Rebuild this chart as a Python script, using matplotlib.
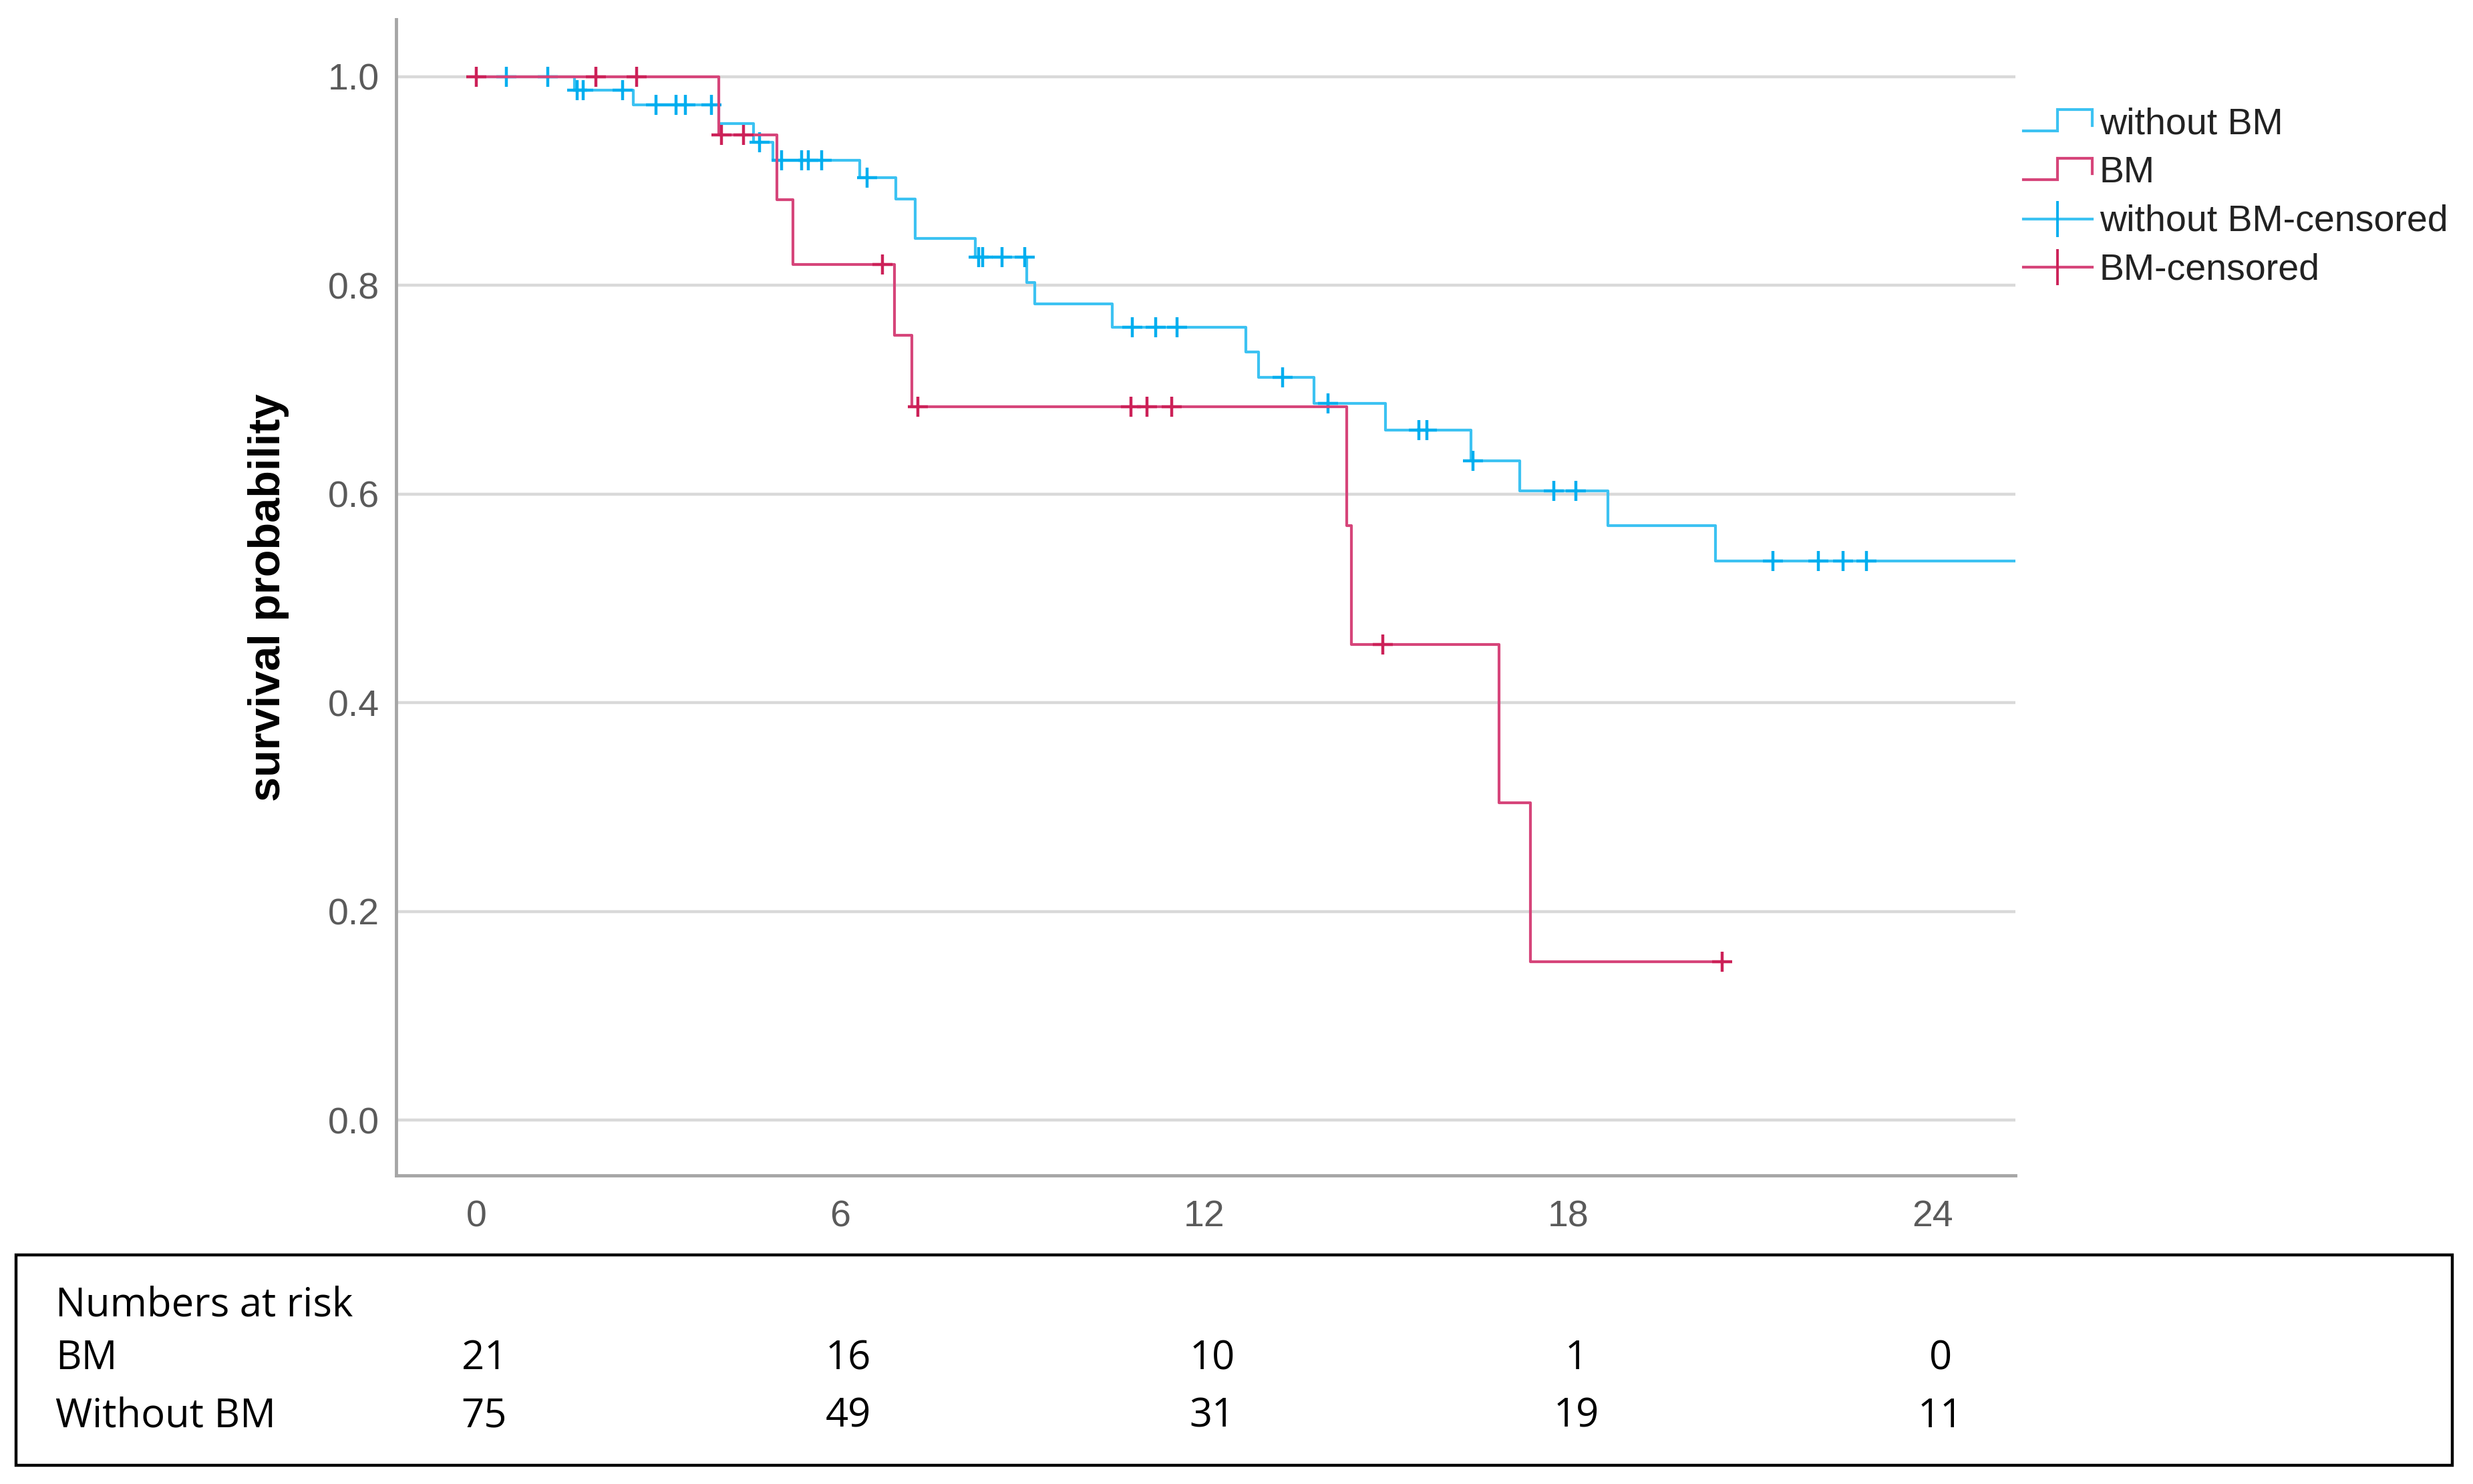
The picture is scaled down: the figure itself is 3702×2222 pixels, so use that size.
import numpy as np
import matplotlib
matplotlib.use('Agg')
import matplotlib.pyplot as plt
import matplotlib.transforms as mtransforms
from matplotlib.lines import Line2D
from matplotlib.patches import Rectangle
from matplotlib.legend_handler import HandlerBase

# Kaplan-Meier steps (months, survival)
blue_event_times = [1.62, 2.59, 4.00, 4.57, 4.89, 6.32, 6.91, 7.23, 8.23, 9.07, 9.21,
                    10.48, 12.69, 12.89, 13.81, 14.99, 16.40, 17.20, 18.65, 20.42]
blue_surv = [0.987, 0.973, 0.955, 0.937, 0.920, 0.903, 0.883, 0.845, 0.827, 0.803, 0.782,
             0.760, 0.736, 0.712, 0.687, 0.661, 0.632, 0.603, 0.570, 0.536]
blue_censored = [0.50, 1.18, 1.66, 1.76, 2.41, 2.96, 3.29, 3.45, 3.88, 4.67, 5.03, 5.36,
                 5.47, 5.69, 6.44, 8.28, 8.35, 8.67, 9.04, 10.81, 11.20, 11.55, 13.29,
                 14.04, 15.54, 15.67, 16.43, 17.76, 18.12, 21.37, 22.12, 22.53, 22.91]
blue_last = 26.0

red_event_times = [4.00, 4.96, 5.22, 6.89, 7.18, 14.35, 14.42, 16.86, 17.37]
red_surv = [0.944, 0.882, 0.820, 0.752, 0.684, 0.570, 0.456, 0.304, 0.152]
red_censored = [0.0, 1.97, 2.64, 4.04, 4.41, 6.69, 7.28, 10.79, 11.06, 11.46, 14.94, 20.53]
red_last = 20.53

risk_times = [0, 6, 12, 18, 24]
risk_bm = [21, 16, 10, 1, 0]
risk_without = [75, 49, 31, 19, 11]

blue_line, blue_mark = '#3cc2f2', '#00aeef'
red_line, red_mark = '#d6457a', '#cc2158'


def level_at(times, surv, t):
    i = np.searchsorted(times, t, side='right')
    return np.r_[1.0, surv][i]


class StepHandler(HandlerBase):
    def create_artists(self, legend, orig_handle, xdescent, ydescent, width, height, fontsize, trans):
        xs = np.array([0, 0.5, 0.5, 1.0, 1.0]) * width - xdescent
        ys = np.array([0.05, 0.05, 1.0, 1.0, 0.3]) * height - ydescent
        ln = Line2D(xs, ys, color=orig_handle.get_color(), lw=orig_handle.get_linewidth(),
                    solid_joinstyle='miter')
        ln.set_transform(trans)
        return [ln]


fig = plt.figure(figsize=(37.02, 22.22), dpi=100)
ax = fig.add_axes([0.1602, 0.2079, 0.815 - 0.1602, 0.987 - 0.2079])

ax.set_xlim(-1.32, 25.37)
ax.set_ylim(-0.053, 1.055)
ax.yaxis.grid(True, color='#d9d9d9', lw=3.2)
ax.set_axisbelow(True)

for times, surv, last, cens, lc, mc in [
        (blue_event_times, blue_surv, blue_last, blue_censored, blue_line, blue_mark),
        (red_event_times, red_surv, red_last, red_censored, red_line, red_mark)]:
    xs = np.r_[0, times, last]
    ys = np.r_[1.0, surv, surv[-1]]
    ax.step(xs, ys, where='post', color=lc, lw=3.0)
    ax.plot(cens, [level_at(times, surv, t) for t in cens], '+', color=mc,
            ms=22, mew=3.2, ls='none')

for s in ['top', 'right']:
    ax.spines[s].set_visible(False)
for s in ['left', 'bottom']:
    ax.spines[s].set_color('#a6a6a6')
    ax.spines[s].set_linewidth(3.5)

ax.set_xticks(risk_times)
ax.set_yticks([0.0, 0.2, 0.4, 0.6, 0.8, 1.0])
ax.set_yticklabels(['0.0', '0.2', '0.4', '0.6', '0.8', '1.0'])
ax.tick_params(axis='both', length=0, labelsize=40, labelcolor='#5a5a5a')
ax.tick_params(axis='y', pad=18)
ax.tick_params(axis='x', pad=26)
for lab in ax.get_xticklabels() + ax.get_yticklabels():
    lab.set_family('Liberation Sans')

ax.set_ylabel('survival probability', fontsize=48, fontweight='bold',
              family='Liberation Sans', color='black')
ax.yaxis.set_label_coords(-0.066, 0.5)

# legend
h1 = Line2D([], [], color=blue_line, lw=3.0)
h2 = Line2D([], [], color=red_line, lw=3.0)
h3 = Line2D([], [], color=blue_line, lw=3.0, marker='|', ms=39, mew=2.8, markeredgecolor=blue_mark)
h4 = Line2D([], [], color=red_line, lw=3.0, marker='|', ms=39, mew=2.8, markeredgecolor=red_mark)
leg = fig.legend([h1, h2, h3, h4], ['without BM', 'BM', 'without BM-censored', 'BM-censored'],
                 loc='upper left', bbox_to_anchor=(3001 / 3702, 1 - 133 / 2222),
                 frameon=False, borderpad=0, handlelength=1.85, handleheight=0.55,
                 handletextpad=0.2, labelspacing=0.37, numpoints=1,
                 prop={'family': 'Liberation Sans', 'size': 40},
                 handler_map={h1: StepHandler(), h2: StepHandler()})
for t in leg.get_texts():
    t.set_color('#222222')

# numbers at risk table
fig.patches.append(Rectangle((24 / 3702, 0.0126), (3671 - 24) / 3702, 0.1544 - 0.0126,
                             transform=fig.transFigure, fill=False, ec='black', lw=3.2))
tfont = {'family': 'Open Sans', 'size': 43, 'color': 'black'}
fig.text(83 / 3702, 0.1206, 'Numbers at risk', va='center', ha='left', **tfont)
fig.text(83 / 3702, 0.0846, 'BM', va='center', ha='left', **tfont)
fig.text(83 / 3702, 0.0455, 'Without BM', va='center', ha='left', **tfont)
col_trans = mtransforms.offset_copy(
    mtransforms.blended_transform_factory(ax.transData, fig.transFigure),
    fig=fig, x=12, y=0, units='dots')
for t, a, b in zip(risk_times, risk_bm, risk_without):
    fig.text(t, 0.0846, str(a), transform=col_trans, ha='center', va='center', **tfont)
    fig.text(t, 0.0455, str(b), transform=col_trans, ha='center', va='center', **tfont)

fig.savefig('out.png', dpi=100, facecolor='white')
